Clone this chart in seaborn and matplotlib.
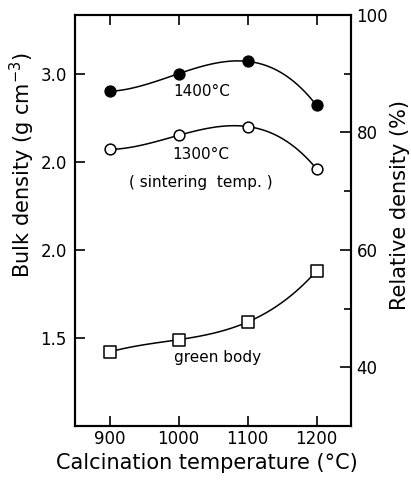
import numpy as np
import pandas as pd
import matplotlib
matplotlib.use("Agg")
import matplotlib.pyplot as plt
import seaborn as sns
from matplotlib.ticker import FixedLocator

# Calcination temperature (°C)
calcination = [900, 1000, 1100, 1200]
# Bulk density (g cm^-3) after sintering / of green compacts
sintered_1400 = [2.90, 3.00, 3.07, 2.82]
sintered_1300 = [2.57, 2.65, 2.70, 2.46]
green_body = [1.42, 1.49, 1.59, 1.88]

# Left-axis tick positions and printed labels
bulk_ticks = [1.5, 2.0, 2.5, 3.0]
bulk_ticklabels = ["1.5", "2.0", "2.0", "3.0"]
rel_major = [40, 60, 80, 100]
rel_minor = [30, 50, 70, 90]
x_ticks = [900, 1000, 1100, 1200]

df = pd.DataFrame({
    "calcination": calcination * 3,
    "density": sintered_1400 + sintered_1300 + green_body,
    "series": ["1400"] * 4 + ["1300"] * 4 + ["green"] * 4,
})

sns.set_theme(style="ticks")
plt.rcParams["font.family"] = ["DejaVu Sans"]
plt.rcParams["mathtext.default"] = "regular"
for key in ["text.color", "axes.labelcolor", "xtick.color", "ytick.color",
            "axes.edgecolor"]:
    plt.rcParams[key] = "black"

fig = plt.figure(figsize=(4.11, 4.88), dpi=100)
ax = fig.add_axes([75 / 411, 1 - 426 / 488, 276 / 411, 411 / 488])

styles = {
    "1400": dict(marker="o", fc="black", s=60),
    "1300": dict(marker="o", fc="white", s=60),
    "green": dict(marker="s", fc="white", s=70),
}

for name, sub in df.groupby("series", sort=False):
    # smooth cubic curve through the four points
    sns.regplot(data=sub, x="calcination", y="density", order=3, ci=None,
                scatter=False, ax=ax, truncate=True,
                line_kws=dict(color="black", lw=1.1))
    st = styles[name]
    sns.scatterplot(data=sub, x="calcination", y="density", ax=ax,
                    marker=st["marker"], s=st["s"], color=st["fc"],
                    edgecolor="black", linewidth=1.1, zorder=5, legend=False)

ax.set_xlim(850, 1250)
ax.set_ylim(1.0, 10 / 3)
ax.set_xticks(x_ticks)
ax.set_yticks(bulk_ticks)
ax.set_yticklabels(bulk_ticklabels)
ax.tick_params(axis="both", direction="in", length=7, width=1.2,
               labelsize=12, pad=6, color="black", labelcolor="black")
ax.tick_params(axis="x", top=True, pad=3)
for sp in ax.spines.values():
    sp.set_linewidth(1.5)
    sp.set_color("black")
    sp.set_visible(True)

ax.set_xlabel("Calcination temperature (°C)", fontsize=15, color="black")
ax.set_ylabel("Bulk density (g cm$^{-3}$)", fontsize=15, color="black")
ax.xaxis.set_label_coords(0.478, -0.066)
ax.yaxis.set_label_coords(-0.139, 0.635)

ax2 = ax.twinx()
ax2.set_ylim(30, 100)
ax2.yaxis.set_major_locator(FixedLocator(rel_major))
ax2.yaxis.set_minor_locator(FixedLocator(rel_minor))
ax2.tick_params(axis="y", which="major", direction="in", length=8, width=1.2,
                labelsize=12, pad=4, color="black", labelcolor="black")
ax2.tick_params(axis="y", which="minor", direction="in", length=5, width=1.2,
                color="black")
for sp in ax2.spines.values():
    sp.set_linewidth(1.5)
    sp.set_color("black")
ax2.set_ylabel("Relative density (%)", fontsize=15, color="black")
ax2.yaxis.set_label_coords(1.141, 0.538)
ax2.grid(False)

text_kw = dict(ha="center", va="center", fontsize=11, color="black")
ax.text(1033, 2.90, "1400°C", **text_kw)
ax.text(1033, 2.54, "1300°C", **text_kw)
ax.text(1033, 2.385, "( sintering  temp. )", **text_kw)
ax.text(1057, 1.39, "green body", **text_kw)

fig.savefig("out.png", dpi=100)
